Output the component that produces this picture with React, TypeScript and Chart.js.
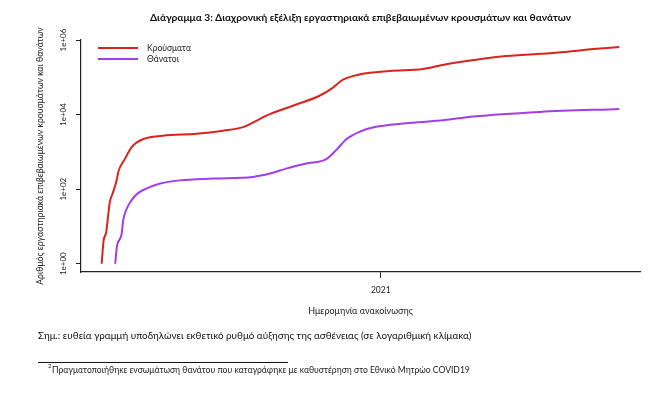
import React, { useEffect, useRef } from "react";
import { Chart, registerables } from "chart.js";

Chart.register(...registerables);

// ---------- data ----------
const caseDates = [
  "2020-02-26", "2020-02-28", "2020-03-02", "2020-03-04", "2020-03-06", "2020-03-09",
  "2020-03-13", "2020-03-16", "2020-03-22", "2020-03-31", "2020-04-11", "2020-05-04",
  "2020-06-10", "2020-07-10", "2020-08-01", "2020-08-12", "2020-08-27", "2020-09-26",
  "2020-10-25", "2020-11-09", "2020-11-20", "2020-12-09", "2021-01-11", "2021-02-17",
  "2021-03-15", "2021-04-14", "2021-05-15", "2021-06-27", "2021-07-25", "2021-08-25",
  "2021-09-23",
];
const caseValues = [
  1, 4, 7, 18, 45, 75,
  150, 320, 600, 1400, 2150, 2700,
  3050, 3700, 4600, 6100, 9400, 17500,
  32000, 53000, 86000, 120000, 148000, 168000,
  225000, 290000, 360000, 425000, 480000, 570000,
  650000,
];

const deathDates = [
  "2020-03-12", "2020-03-14", "2020-03-19", "2020-03-21", "2020-03-24", "2020-03-30",
  "2020-04-06", "2020-04-16", "2020-04-30", "2020-05-23", "2020-06-29", "2020-08-12",
  "2020-08-31", "2020-09-18", "2020-10-10", "2020-11-02", "2020-11-13", "2020-11-24",
  "2020-12-09", "2020-12-23", "2021-01-29", "2021-03-08", "2021-04-14", "2021-06-27",
  "2021-09-23",
];
const deathValues = [
  1, 3, 6, 15, 27, 50,
  77, 105, 140, 172, 192, 213,
  262, 355, 485, 650, 1150, 2200,
  3500, 4500, 5850, 6900, 8900, 11800,
  14200,
];

const seriesLabels = ["Κρούσματα", "Θάνατοι"];
const yTickValues = [1, 100, 10000, 1000000];
const yTickLabels = ["1e+00", "1e+02", "1e+04", "1e+06"];
const xTickDates = ["2021-01-01"];
const xTickLabels = ["2021"];
const xRange = ["2020-02-03", "2021-10-16"];

const TITLE = "Διάγραμμα 3: Διαχρονική εξέλιξη εργαστηριακά επιβεβαιωμένων κρουσμάτων και θανάτων";
const Y_TITLE = "Αριθμός εργαστηριακά επιβεβαιωμένων κρουσμάτων και θανάτων";
const X_TITLE = "Ημερομηνία ανακοίνωσης";
const NOTE = "Σημ.: ευθεία γραμμή υποδηλώνει εκθετικό ρυθμό αύξησης της ασθένειας (σε λογαριθμική κλίμακα)";
const FOOTNOTE = "Πραγματοποιήθηκε ενσωμάτωση θανάτου που καταγράφηκε με καθυστέρηση στο Εθνικό Μητρώο COVID19";

// ---------- style ----------
const FAMILY = "Lato, 'Noto Sans', sans-serif";
const RED = "#d9231d";
const PURPLE = "#a23ee6";
const TEXT = "#222";
const AXIS = "#222";

const ORIGIN = Date.UTC(2020, 1, 26);
const toDay = (s: string) => {
  const [y, m, d] = s.split("-").map(Number);
  return (Date.UTC(y, m - 1, d) - ORIGIN) / 86400000;
};

function fitSize(text: string, weight: string, target: number): number {
  const c = document.createElement("canvas").getContext("2d");
  if (!c) return 10;
  c.font = `${weight} 20px ${FAMILY}`;
  const w = c.measureText(text).width;
  return (20 * target) / w;
}

const yLabelPlugin = {
  id: "yRotLabels",
  afterDraw(chart: any) {
    const ys = chart.scales.y;
    const ctx = chart.ctx;
    ctx.save();
    ctx.font = `8px ${FAMILY}`;
    ctx.fillStyle = TEXT;
    ctx.textAlign = "center";
    ctx.textBaseline = "middle";
    yTickValues.forEach((v, i) => {
      const py = ys.getPixelForValue(v);
      ctx.save();
      ctx.translate(ys.right - 18, py);
      ctx.rotate(-Math.PI / 2);
      ctx.fillText(yTickLabels[i], 0, 0);
      ctx.restore();
    });
    ctx.restore();
  },
};

export default function App() {
  const ref = useRef<HTMLCanvasElement>(null);

  useEffect(() => {
    if (!ref.current) return;
    const casePts = caseDates.map((d, i) => ({ x: toDay(d), y: caseValues[i] }));
    const deathPts = deathDates.map((d, i) => ({ x: toDay(d), y: deathValues[i] }));
    const chart = new Chart(ref.current, {
      type: "line",
      data: {
        datasets: [
          {
            label: seriesLabels[0],
            data: casePts,
            borderColor: RED,
            backgroundColor: RED,
            borderWidth: 2,
            pointRadius: 0,
            cubicInterpolationMode: "monotone",
            fill: false,
          },
          {
            label: seriesLabels[1],
            data: deathPts,
            borderColor: PURPLE,
            backgroundColor: PURPLE,
            borderWidth: 2,
            pointRadius: 0,
            cubicInterpolationMode: "monotone",
            fill: false,
          },
        ],
      },
      options: {
        animation: false,
        responsive: false,
        devicePixelRatio: 1,
        layout: { padding: { left: 0, right: 11, top: 40, bottom: 82 } },
        plugins: {
          legend: { display: false },
          title: { display: false },
          tooltip: { enabled: false },
        },
        scales: {
          x: {
            type: "linear",
            min: toDay(xRange[0]),
            max: toDay(xRange[1]),
            grid: { display: true, drawOnChartArea: false, drawTicks: true, tickLength: 6, color: AXIS, lineWidth: 1 },
            border: { display: true, color: AXIS, width: 1.2 },
            afterBuildTicks: (s: any) => {
              s.ticks = xTickDates.map((d) => ({ value: toDay(d) }));
            },
            afterFit: (s: any) => {
              s.height = 44;
            },
            ticks: {
              autoSkip: false,
              maxRotation: 0,
              padding: 7,
              color: TEXT,
              font: { family: FAMILY, size: 8.5 },
              callback: (v: any) => {
                const i = xTickDates.findIndex((d) => toDay(d) === v);
                return i >= 0 ? xTickLabels[i] : "";
              },
            },
            title: {
              display: true,
              text: X_TITLE,
              color: TEXT,
              font: { family: FAMILY, size: 9 },
              padding: { top: 0, bottom: 0 },
            },
          },
          y: {
            type: "logarithmic",
            min: Math.pow(10, -8 / 37.5),
            max: 1000000,
            grid: { display: true, drawOnChartArea: false, drawTicks: true, tickLength: 5, color: AXIS, lineWidth: 1 },
            border: { display: true, color: AXIS, width: 1.2 },
            afterBuildTicks: (s: any) => {
              s.ticks = yTickValues.map((v) => ({ value: v }));
            },
            afterFit: (s: any) => {
              s.width = 81;
            },
            ticks: { display: false },
            title: {
              display: true,
              text: Y_TITLE,
              color: TEXT,
              font: { family: FAMILY, size: 8.7 },
              padding: { top: 35, bottom: 0 },
            },
          },
        },
      },
      plugins: [yLabelPlugin],
    } as any);
    return () => chart.destroy();
  }, []);

  const titleSize = fitSize(TITLE, "bold", 422);
  const noteSize = fitSize(NOTE, "normal", 434);
  const footSize = fitSize(FOOTNOTE, "normal", 418);
  const legSize = fitSize(seriesLabels[0], "normal", 44);

  const abs: React.CSSProperties = { position: "absolute", whiteSpace: "nowrap", fontFamily: FAMILY, color: TEXT, lineHeight: 1 };

  return (
    <div style={{ position: "fixed", left: 0, top: 0, width: 651, height: 398, background: "#fff", overflow: "hidden" }}>
      <canvas ref={ref} width={651} height={398} style={{ position: "absolute", left: 0, top: 0, width: 651, height: 398 }} />
      <div style={{ ...abs, left: 150, top: 17, transform: "translateY(-50%)", fontWeight: "bold", fontSize: titleSize, color: "#111" }}>{TITLE}</div>
      {/* legend */}
      <div style={{ position: "absolute", left: 98, top: 47, width: 40, height: 2, background: RED }} />
      <div style={{ position: "absolute", left: 98, top: 58, width: 40, height: 2, background: PURPLE }} />
      <div style={{ ...abs, left: 147, top: 48, transform: "translateY(-50%)", fontSize: legSize }}>{seriesLabels[0]}</div>
      <div style={{ ...abs, left: 147, top: 58.5, transform: "translateY(-50%)", fontSize: legSize }}>{seriesLabels[1]}</div>
      {/* notes */}
      <div style={{ ...abs, left: 38, top: 336, transform: "translateY(-50%)", fontSize: noteSize, color: "#111" }}>{NOTE}</div>
      <div style={{ position: "absolute", left: 38, top: 362, width: 250, height: 1, background: "#111" }} />
      <div style={{ ...abs, left: 48, top: 366, transform: "translateY(-50%)", fontSize: footSize * 0.7 }}>2</div>
      <div style={{ ...abs, left: 52, top: 370, transform: "translateY(-50%)", fontSize: footSize }}>{FOOTNOTE}</div>
    </div>
  );
}
